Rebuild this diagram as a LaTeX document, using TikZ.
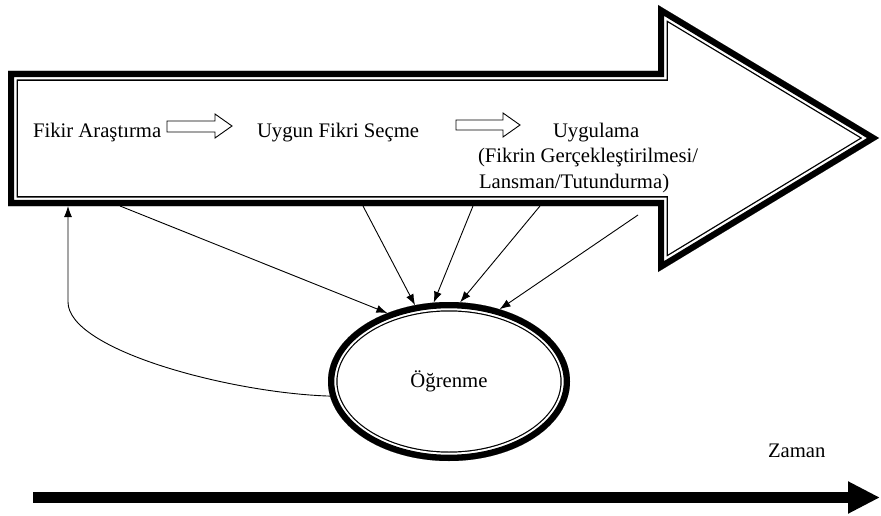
\documentclass[tikz,border=0pt]{standalone}
\usepackage{fontspec}
\setmainfont{Liberation Serif}
\usetikzlibrary{arrows.meta,shapes.geometric}
% outer edge of the large process arrow
\newcommand\processoutline{(8,71) -- (658,71) -- (658,5) -- (879,138) -- (658,272) -- (658,206) -- (8,206) -- cycle}
% outer edge of the learning ellipse
\newcommand\learnoutline{(449,381.5) ellipse [x radius=121, y radius=79.5]}
\begin{document}
\begin{tikzpicture}[x=1pt,y=-1pt,
  lbl/.style={inner sep=0pt, outer sep=0pt, font=\fontsize{20.7}{25}\selectfont},
  conn/.style={line width=0.9pt, -{Latex[length=11pt,width=8pt]}},
  hollow/.style={draw, line width=0.9pt, fill=white, line join=miter},
  framejoin/.style={line join=miter, miter limit=10},
]
\useasboundingbox (0,0) rectangle (881,516);

% thick-thin frame of the process arrow, kept on the inner side by clipping
\begin{scope}
  \clip \processoutline;
  \draw[framejoin, line width=19.6pt] \processoutline;
  \draw[framejoin, white, line width=17pt] \processoutline;
  \draw[framejoin, line width=12.4pt] \processoutline;
\end{scope}

% thick-thin frame of the learning ellipse
\begin{scope}
  \clip \learnoutline;
  \draw[line width=19pt] \learnoutline;
  \draw[white, line width=16.6pt] \learnoutline;
  \draw[line width=12.6pt] \learnoutline;
\end{scope}

% stage labels
\node[lbl, anchor=base west] (fikir) at (33,138) {Fikir Araştırma};
\node[lbl, anchor=base west] (secme) at (257,138) {Uygun Fikri Seçme};
\node[lbl, anchor=base west] (uyg)   at (553,138) {Uygulama};
\node[lbl, anchor=base west] (uygA)  at (478,163) {(Fikrin Gerçekleştirilmesi/};
\node[lbl, anchor=base west] (uygB)  at (479,188) {Lansman/Tutundurma)};

% hollow block arrows between the stages
\draw[hollow] (167,121) -- (215,121) -- (215,114) -- (232,126) -- (215,138) -- (215,132) -- (167,132) -- cycle;
\draw[hollow] (456,120) -- (503,120) -- (503,113) -- (520,125) -- (503,137) -- (503,130) -- (456,130) -- cycle;

% learning node
\node[lbl, ellipse, minimum width=242pt, minimum height=159pt] (ogr) at (449,381.5) {Öğrenme};

% feeds from the process into learning
\coordinate (s1) at (120,206);
\coordinate (s2) at (363,206);
\coordinate (s3) at (473,206);
\coordinate (s4) at (540,206);
\coordinate (s5) at (638,215);
\draw[conn] (s1) -- (ogr.132);
\draw[conn] (s2) -- (ogr.114);
\draw[conn] (s3) -- (ogr.101);
\draw[conn] (s4) -- (ogr.82);
\draw[conn] (s5) -- (ogr.55);

% feedback from learning to idea search
\coordinate (fbend) at (68,206);
\draw[conn] (ogr.187) .. controls (230,393) and (68,350) .. (68,302) -- (fbend);

% time axis
\node[lbl, anchor=base west] (zaman) at (768,457) {Zaman};
\coordinate (t0) at (33,497.5);
\coordinate (t1) at (880,497.5);
\draw[line width=11pt, -{Triangle[length=32pt,width=30pt]}] (t0) -- (t1);
\end{tikzpicture}
\end{document}
